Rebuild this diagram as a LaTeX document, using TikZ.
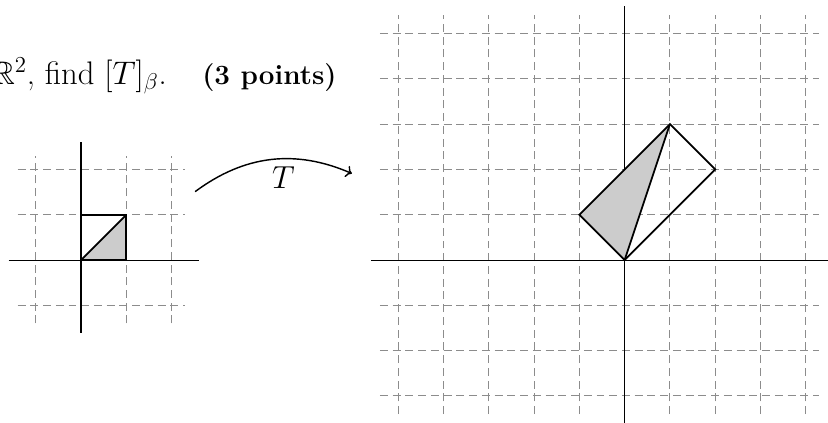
\documentclass[tikz,border=0pt]{standalone}
\usepackage{fix-cm}
\usepackage{amssymb}
\usepackage{tikz}
\usetikzlibrary{arrows.meta, positioning}

\begin{document}
\begin{tikzpicture}[
    gridline/.style={black!45, line width=0.55pt, dash pattern=on 5pt off 3pt},
    axis/.style={black, line width=0.65pt},
    outline/.style={draw=black, line width=1.1pt},
    shaded/.style={fill=black!20},
    prompt/.style={font=\fontsize{20.5}{24}\selectfont, inner sep=0pt},
    points/.style={font=\fontsize{17.5}{21}\selectfont\bfseries, inner sep=0pt},
    maparrow/.style={->, line width=0.9pt},
    maplabel/.style={font=\fontsize{20}{24}\selectfont}
]
\useasboundingbox (-1.788,-3.576) rectangle (16.49,5.74);

\node[prompt, anchor=base east] (question) at (1.90,3.88) {$\mathbb{R}^2$, find $[T]_\beta$.};
\node[points, anchor=base west] (score) at (2.67,3.88) {(3 points)};

% unit square
\draw[gridline] (-1.4,-1.4) grid (2.3,2.3);
\draw[axis] (-1.6,0) -- (2.6,0);
\draw[axis] (0,-1.6) -- (0,2.6);
\coordinate (o) at (0,0);
\coordinate (e1) at (1,0);
\coordinate (d) at (1,1);
\fill[shaded] (o) -- (e1) -- (d) -- cycle;
\draw[outline] (o) rectangle (d);
\draw[outline] (o) -- (d);

% image under T
\begin{scope}[shift={(12,0)}]
\draw[gridline] (-5.4,-3.4) grid (4.3,5.4);
\draw[axis] (-5.6,0) -- (4.6,0);
\draw[axis] (0,-3.7) -- (0,5.6);
\coordinate (to) at (0,0);
\coordinate (te1) at (-1,1);
\coordinate (td) at (1,3);
\coordinate (te2) at (2,2);
\fill[shaded] (to) -- (te1) -- (td) -- cycle;
\draw[outline] (to) -- (te1) -- (td) -- (te2) -- cycle;
\draw[outline] (to) -- (td);
\end{scope}

\coordinate (mapstart) at (2.52,1.51);
\coordinate (mapend) at (5.98,1.91);
\draw[maparrow] (mapstart) to[bend left=30] node[maplabel, pos=0.58, below=1pt] (tlabel) {$T$} (mapend);
\end{tikzpicture}
\end{document}
